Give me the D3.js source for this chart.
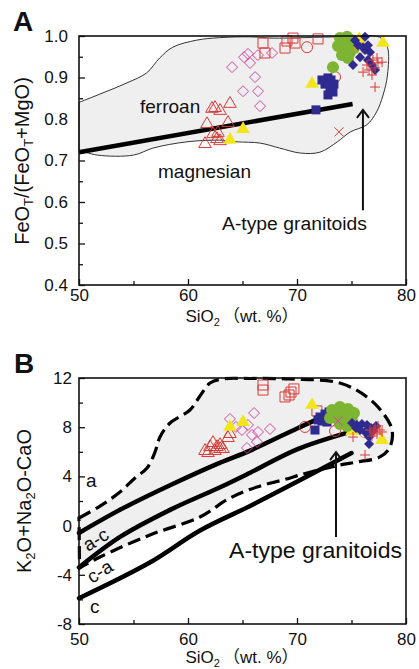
<!DOCTYPE html>
<html>
<head>
<meta charset="utf-8">
<script src="https://cdn.jsdelivr.net/npm/d3@7"></script>
<style>
  body { margin: 0; background: #fff; }
  svg { display: block; }
  text { font-family: "Liberation Sans", Arial, "Noto Sans CJK SC", sans-serif; fill: #111; }
</style>
</head>
<body>
<svg width="419" height="669"></svg>
<script>
// ---- axes ----
var siTicks = [50, 60, 70, 80];
var siMinor = [55, 65, 75];
var feTicks = [0.4, 0.5, 0.6, 0.7, 0.8, 0.9, 1.0];
var feMinor = [0.45, 0.55, 0.65, 0.75, 0.85, 0.95];
var maliTicks = [-8, -4, 0, 4, 8, 12];
var maliMinor = [-6, -2, 2, 6, 10];

// ---- panel A : FeOt/(FeOt+MgO) vs SiO2 ----
// A-type granitoid field outline
var feField = [[50,0.84],[52.2,0.863],[54.4,0.887],[56.2,0.911],[57.4,0.947],[58.6,0.973],[60.8,0.99],
  [62.9,0.996],[65.7,0.998],[67.8,0.995],[73.9,0.998],[77.6,0.997],[78.3,0.973],[78.3,0.906],[77.9,0.858],
  [77.3,0.817],[76.4,0.786],[74.9,0.769],[73.7,0.745],[72.1,0.72],[70.3,0.718],[68.4,0.73],[66.6,0.742],
  [64.5,0.745],[62.9,0.749],[59.9,0.745],[56.8,0.73],[55.0,0.713],[51.7,0.713],[50,0.725]];
// ferroan / magnesian boundary
var feBoundary = [[50,0.72],[75.1,0.836]];
var feArrow = [[76.05,0.58],[76.05,0.822]];

var feRedTri = [[61.56,0.742],[61.74,0.79],[62.29,0.766],[62.66,0.754],[62.94,0.749],[62.75,0.769],
  [62.2,0.827],[62.48,0.829],[62.94,0.822],[63.85,0.839],[63.67,0.793]];
var fePinkDia = [[64.04,0.925],[65.14,0.949],[65.5,0.957],[65.69,0.935],[66.42,0.954],[67.71,0.959],
  [66.15,0.901],[65.05,0.867],[66.42,0.867],[66.61,0.831]];
var feRedSq = [[66.88,0.983],[67.06,0.959],[68.9,0.971],[69.08,0.988],[69.63,0.995],[69.82,0.983],[71.93,0.993]];
var feRedCirc = [[70.92,0.973],[73.49,0.901]];
var feOrangeCirc = [[75.78,0.971]];
var feRedX = [[73.85,0.769]];
var feRedPlus = [[76.42,0.93],[76.97,0.942],[77.43,0.935],[77.8,0.937],[77.16,0.923],[76.06,0.913],
  [76.88,0.906],[77.16,0.877],[77.34,0.947],[76.61,0.918]];
var feYellowTri = [[63.85,0.752],[65.05,0.778],[71.38,0.887],[77.89,0.986],[75.69,0.995]];
var feBlueSq = [[71.74,0.822],[72.29,0.894],[72.84,0.899],[72.57,0.884],[73.03,0.875],[73.3,0.865],
  [72.84,0.858],[73.39,0.884],[73.12,0.894]];
var feGreen = [[73.94,0.995],[74.59,0.998],[75.05,0.99],[73.76,0.976],[74.4,0.973],[74.86,0.961],
  [74.13,0.954],[74.68,0.947],[73.3,0.925],[74.31,0.986],[75.23,0.971]];
var feBlueDia = [[75.32,0.99],[76.24,0.998],[75.6,0.978],[76.06,0.973],[76.51,0.978],[75.78,0.949],
  [76.24,0.966],[75.14,0.93],[76.51,0.942],[76.88,0.93],[76.7,0.961],[77.16,0.918]];

// ---- panel B : MALI vs SiO2 ----
var maliField = [[50,0.62],[51.93,1.59],[53.76,2.73],[55.14,3.87],[56.24,4.68],[56.97,5.98],[57.43,7.2],
  [58.35,8.34],[60.18,9.4],[61.1,10.54],[62.02,11.59],[63.12,11.92],[65.69,11.96],[69.36,11.92],
  [73.94,11.59],[76.42,10.46],[77.89,9.15],[78.72,7.77],[78.53,6.39],[77.61,5.58],[75.5,5.17],
  [73.94,4.93],[70.92,4.28],[68.72,3.71],[66.33,3.14],[63.85,2.24],[61.1,0.7],[56.51,-0.76],
  [51.93,-2.55],[50.05,-3.45]];
var maliLineA = [[50,-0.6],[53.8,1.3],[58.4,3.3],[62.9,5.1],[65.7,6.1],[70,7.9],[72,8.7]];
var maliLineAC = [[50,-3.4],[53.8,-0.9],[58.4,1.3],[62.9,3.1],[65.7,4.3],[70,6.2],[74.8,7.6]];
var maliLineCA = [[50,-5.9],[56.5,-3.0],[61.1,-0.4],[65.7,1.6],[70.3,3.7],[75,5.9]];
var maliArrow = [[73.58,-0.93],[73.58,5.98]];

var maliRedTri = [[61.56,6.15],[62.02,6.47],[62.29,6.8],[62.66,6.47],[62.94,6.63],[63.21,6.31],
  [63.67,7.2],[63.85,7.53],[62.48,6.15],[61.83,5.98],[62.94,6.31]];
var maliPinkDia = [[63.85,8.67],[66.06,9.15],[64.95,7.77],[65.5,8.18],[66.42,7.61],[67.52,7.85],
  [65.41,6.31],[66.33,6.8],[65.87,7.37],[64.4,8.02]];
var maliRedSq = [[66.88,11.43],[66.88,11.02],[68.9,10.46],[69.45,10.86],[69.72,11.11],[71.83,9.32],[69.27,10.62]];
var maliRedCirc = [[70.73,8.02],[73.49,7.69]];
var maliOrangeCirc = [[76.2,7.6]];
var maliRedX = [[73.76,8.5]];
var maliRedPlus = [[76.7,7.77],[77.16,7.93],[77.61,7.77],[77.34,7.45],[76.88,7.28],[75.14,7.2],
  [76.24,5.74],[77.8,7.61],[77.06,7.61],[77.43,8.1]];
var maliYellowTri = [[63.85,8.1],[65.05,8.5],[71.38,9.89],[77.8,7.04],[75.05,7.77]];
var maliBlueSq = [[71.65,7.77],[72.11,8.83],[72.57,9.07],[73.03,8.75],[72.75,8.42],[72.29,8.5],
  [73.3,8.99],[71.93,8.59],[72.94,9.24]];
var maliGreen = [[73.21,9.4],[73.94,9.64],[74.68,9.48],[75.23,9.15],[73.58,8.75],[74.4,8.99],
  [75.05,8.5],[73.94,8.26],[74.59,8.1],[73.03,8.75],[73.76,9.24]];
var maliBlueDia = [[75.05,8.34],[75.5,8.18],[75.96,8.26],[76.42,8.18],[76.79,7.93],[75.78,7.77],
  [76.24,7.61],[76.97,7.69],[76.61,7.2],[76.61,6.63],[75.41,7.93],[77.25,8.1]];

var RED = "#d93a36", PINK = "#d447a2", YELLOW = "#f2e51c", BLUE = "#2f2a8f", GREEN = "#7db431", ORANGE = "#e99a2c";

var svg = d3.select("svg");

// simple marker paths centred on 0,0
function markPath(kind, s) {
  var h = s / 2;
  if (kind == "tri") return "M0," + (-h * 1.05) + "L" + h * 1.05 + "," + h * 0.75 + "L" + (-h * 1.05) + "," + h * 0.75 + "Z";
  if (kind == "sq") return "M" + (-h) + "," + (-h) + "H" + h + "V" + h + "H" + (-h) + "Z";
  if (kind == "dia") return "M0," + (-h) + "L" + h + ",0L0," + h + "L" + (-h) + ",0Z";
  if (kind == "plus") return "M" + (-h) + ",0H" + h + "M0," + (-h) + "V" + h;
  if (kind == "x") return "M" + (-h) + "," + (-h) + "L" + h + "," + h + "M" + h + "," + (-h) + "L" + (-h) + "," + h;
  // circle
  return d3.arc()({innerRadius: 0, outerRadius: h, startAngle: 0, endAngle: 2 * Math.PI});
}

function makePanel(yDomain, yRange, major, minor, xPad, yPad) {
  var g = svg.append("g");
  var x = d3.scaleLinear().domain([50, 80]).range([79, 406]);
  var y = d3.scaleLinear().domain(yDomain).range(yRange);

  g.append("g").attr("transform", "translate(0," + yRange[0] + ")")
    .call(d3.axisBottom(x).tickValues(siTicks).tickSize(-6).tickPadding(xPad));
  g.append("g").attr("transform", "translate(0," + yRange[0] + ")")
    .call(d3.axisBottom(x).tickValues(siMinor).tickSize(-4).tickFormat(""));
  g.append("g").attr("transform", "translate(79,0)")
    .call(d3.axisLeft(y).tickValues(major).tickSize(-6).tickPadding(yPad).tickFormat(function (d) {
      return yDomain[1] == 1 ? d3.format(".1f")(d) : d;
    }));
  g.append("g").attr("transform", "translate(79,0)")
    .call(d3.axisLeft(y).tickValues(minor).tickSize(-4).tickFormat(""));
  g.selectAll(".domain").remove();
  g.selectAll(".tick line").attr("stroke", "#111").attr("stroke-width", 1.3);
  g.selectAll(".tick text").attr("font-size", 17).attr("fill", "#111")
    .style("font-family", "'Liberation Sans', Arial, sans-serif");
  return {g: g, x: x, y: y};
}

function drawSeries(p, layers) {
  layers.forEach(function (L) {
    p.g.append("g").selectAll("path").data(L.pts).enter().append("path")
      .attr("transform", function (d) { return "translate(" + p.x(d[0]) + "," + p.y(d[1]) + ")"; })
      .attr("d", markPath(L.kind, L.size))
      .attr("fill", L.fill || "none")
      .attr("stroke", L.stroke || "none")
      .attr("stroke-width", L.sw || 1);
  });
}

function drawArrow(p, pts) {
  var x0 = p.x(pts[0][0]), yb = p.y(pts[0][1]), yt = p.y(pts[1][1]);
  p.g.append("line").attr("x1", x0).attr("x2", x0).attr("y1", yb).attr("y2", yt)
    .attr("stroke", "#111").attr("stroke-width", 2);
  p.g.append("path").attr("d", "M" + (x0 - 6) + "," + (yt + 8) + "L" + x0 + "," + yt + "L" + (x0 + 6) + "," + (yt + 8))
    .attr("fill", "none").attr("stroke", "#111").attr("stroke-width", 2);
}

function frame(p, yRange) {
  p.g.append("rect").attr("x", 79).attr("y", yRange[1]).attr("width", 327).attr("height", yRange[0] - yRange[1])
    .attr("fill", "none").attr("stroke", "#111").attr("stroke-width", 1.6);
}

function siLabel(y) {
  var t = svg.append("text").attr("x", 242).attr("y", y).attr("text-anchor", "middle").attr("font-size", 17);
  t.append("tspan").text("SiO");
  t.append("tspan").attr("dy", 4).attr("font-size", 11).text("2");
  t.append("tspan").attr("dy", -4).attr("dx", 3).text("（wt. %）");
}

// ================= Panel A =================
var pa = makePanel([0.4, 1.0], [285, 36], feTicks, feMinor, 4, 11);
var smooth = d3.line().x(function (d) { return pa.x(d[0]); }).y(function (d) { return pa.y(d[1]); })
  .curve(d3.curveCatmullRom.alpha(0.5));
pa.g.append("path").attr("d", smooth(feField) + "Z")
  .attr("fill", "#efefef").attr("stroke", "#333").attr("stroke-width", 1);
pa.g.append("path").attr("d", d3.line().x(function (d) { return pa.x(d[0]); }).y(function (d) { return pa.y(d[1]); })(feBoundary))
  .attr("stroke", "#000").attr("stroke-width", 4.5).attr("fill", "none");
drawArrow(pa, feArrow);

drawSeries(pa, [
  {pts: feRedTri, kind: "tri", size: 12, stroke: RED},
  {pts: fePinkDia, kind: "dia", size: 11, stroke: PINK},
  {pts: feRedSq, kind: "sq", size: 10, stroke: RED},
  {pts: feRedCirc, kind: "circ", size: 11, stroke: RED},
  {pts: feYellowTri, kind: "tri", size: 13, fill: YELLOW},
  {pts: feBlueSq, kind: "sq", size: 9, fill: BLUE},
  {pts: feGreen, kind: "circ", size: 12, fill: GREEN},
  {pts: feOrangeCirc, kind: "circ", size: 11, stroke: ORANGE},
  {pts: feBlueDia, kind: "dia", size: 10, fill: BLUE},
  {pts: feRedPlus, kind: "plus", size: 10, stroke: RED},
  {pts: feRedX, kind: "x", size: 9, stroke: RED}
]);
frame(pa, [285, 36]);

pa.g.append("text").attr("x", 140).attr("y", 113).attr("font-size", 19).text("ferroan");
pa.g.append("text").attr("x", 158).attr("y", 178).attr("font-size", 19).text("magnesian");
pa.g.append("text").attr("x", 222).attr("y", 230).attr("font-size", 18)
  .attr("textLength", 145).attr("lengthAdjust", "spacingAndGlyphs").text("A-type granitoids");
svg.append("text").attr("x", 13).attr("y", 31).attr("font-size", 28).attr("font-weight", "bold").text("A");

var yla = svg.append("text").attr("transform", "translate(29,161) rotate(-90)")
  .attr("text-anchor", "middle").attr("font-size", 20);
yla.append("tspan").text("FeO");
yla.append("tspan").attr("dy", 4).attr("font-size", 13).text("T");
yla.append("tspan").attr("dy", -4).text("/(FeO");
yla.append("tspan").attr("dy", 4).attr("font-size", 13).text("T");
yla.append("tspan").attr("dy", -4).text("+MgO)");
siLabel(322);

// ================= Panel B =================
var pb = makePanel([-8, 12], [624, 378], maliTicks, maliMinor, 9, 7);
var smoothB = d3.line().x(function (d) { return pb.x(d[0]); }).y(function (d) { return pb.y(d[1]); })
  .curve(d3.curveCatmullRom.alpha(0.5));
pb.g.append("path").attr("d", smoothB(maliField) + "Z")
  .attr("fill", "#efefef").attr("stroke", "#000").attr("stroke-width", 3.2)
  .attr("stroke-dasharray", "13,6");
[maliLineA, maliLineAC, maliLineCA].forEach(function (line) {
  pb.g.append("path").attr("d", smoothB(line)).attr("fill", "none")
    .attr("stroke", "#000").attr("stroke-width", 4.5).attr("stroke-linecap", "round");
});
drawArrow(pb, maliArrow);

drawSeries(pb, [
  {pts: maliRedTri, kind: "tri", size: 12, stroke: RED},
  {pts: maliPinkDia, kind: "dia", size: 11, stroke: PINK},
  {pts: maliRedSq, kind: "sq", size: 10, stroke: RED},
  {pts: maliRedCirc, kind: "circ", size: 11, stroke: RED},
  {pts: maliYellowTri, kind: "tri", size: 13, fill: YELLOW},
  {pts: maliBlueSq, kind: "sq", size: 9, fill: BLUE},
  {pts: maliGreen, kind: "circ", size: 12, fill: GREEN},
  {pts: maliOrangeCirc, kind: "circ", size: 11, stroke: ORANGE},
  {pts: maliBlueDia, kind: "dia", size: 10, fill: BLUE},
  {pts: maliRedPlus, kind: "plus", size: 10, stroke: RED},
  {pts: maliRedX, kind: "x", size: 9, stroke: PINK}
]);
frame(pb, [624, 378]);

pb.g.append("text").attr("x", 86).attr("y", 487).attr("font-size", 19).text("a");
pb.g.append("text").attr("transform", "translate(88,552) rotate(-32)").attr("font-size", 19).text("a-c");
pb.g.append("text").attr("transform", "translate(92,584) rotate(-32)").attr("font-size", 19).text("c-a");
pb.g.append("text").attr("x", 90).attr("y", 613).attr("font-size", 19).text("c");
pb.g.append("text").attr("x", 229).attr("y", 558).attr("font-size", 22)
  .attr("textLength", 173).attr("lengthAdjust", "spacingAndGlyphs").text("A-type granitoids");
svg.append("text").attr("x", 14).attr("y", 373).attr("font-size", 28).attr("font-weight", "bold").text("B");

var ylb = svg.append("text").attr("transform", "translate(31,501) rotate(-90)")
  .attr("text-anchor", "middle").attr("font-size", 20);
ylb.append("tspan").text("K");
ylb.append("tspan").attr("dy", 4).attr("font-size", 13).text("2");
ylb.append("tspan").attr("dy", -4).text("O+Na");
ylb.append("tspan").attr("dy", 4).attr("font-size", 13).text("2");
ylb.append("tspan").attr("dy", -4).text("O-CaO");
siLabel(663);
</script>
</body>
</html>
